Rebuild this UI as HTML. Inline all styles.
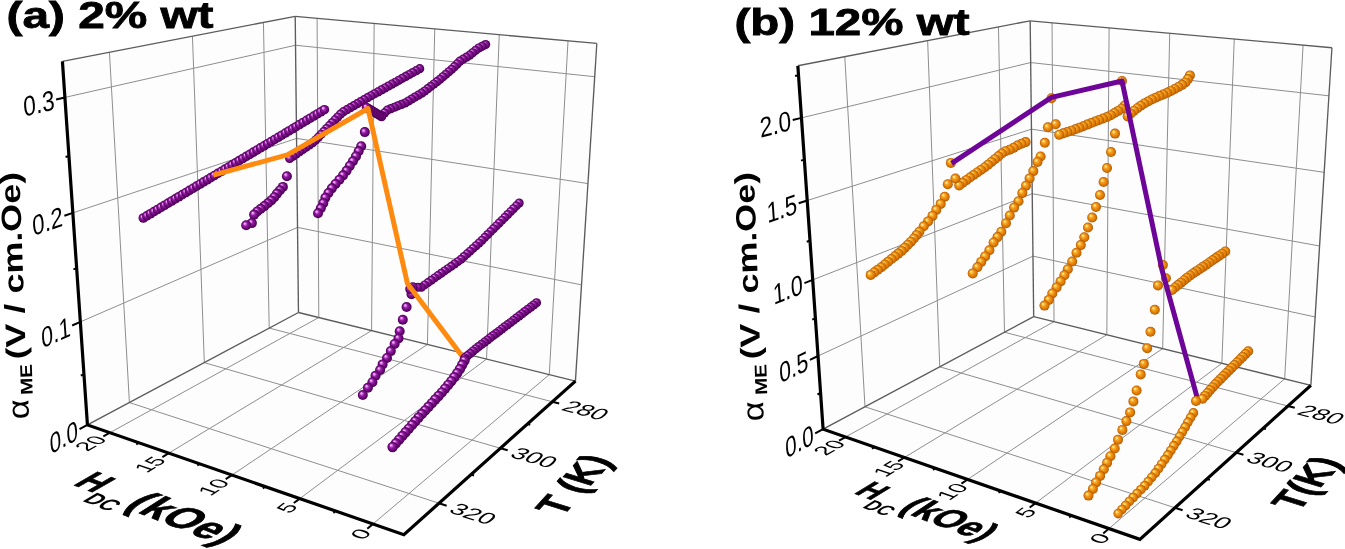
<!DOCTYPE html><html><head><meta charset="utf-8"><style>html,body{margin:0;padding:0;background:#fff;width:1345px;height:549px;overflow:hidden}svg{display:block;will-change:transform}text{font-family:"Liberation Sans",sans-serif}</style></head><body>
<svg width="1345" height="549" viewBox="0 0 1345 549">
<defs>
<radialGradient id="gp" cx="50%" cy="50%" r="50%" fx="33%" fy="30%"><stop offset="0" stop-color="#ffe0ff"/><stop offset="0.18" stop-color="#e485ef"/><stop offset="0.42" stop-color="#9420a4"/><stop offset="0.75" stop-color="#6c0678"/><stop offset="1" stop-color="#44004e"/></radialGradient>
<radialGradient id="go" cx="50%" cy="50%" r="50%" fx="33%" fy="30%"><stop offset="0" stop-color="#fffce0"/><stop offset="0.13" stop-color="#ffe67a"/><stop offset="0.32" stop-color="#f8aa2c"/><stop offset="0.62" stop-color="#e8860c"/><stop offset="0.85" stop-color="#d06e00"/><stop offset="1" stop-color="#a85200"/></radialGradient>
</defs>
<polygon points="87.43,424.95 298.46,312.48 295.21,16.34 62.42,61.33" fill="#fdfdfd"/>
<polygon points="298.46,312.48 575.44,381.09 596.82,43.43 295.21,16.34" fill="#fdfdfd"/>
<polygon points="87.43,424.95 298.46,312.48 575.44,381.09 403.88,534.69" fill="#fdfdfd"/>
<line x1="269.18" y1="328.08" x2="263.44" y2="22.48" stroke="#8e8e8e" stroke-width="1"/>
<line x1="269.18" y1="328.08" x2="552.37" y2="401.75" stroke="#8e8e8e" stroke-width="1"/>
<line x1="204.32" y1="362.65" x2="192.45" y2="36.2" stroke="#8e8e8e" stroke-width="1"/>
<line x1="204.32" y1="362.65" x2="500.44" y2="448.24" stroke="#8e8e8e" stroke-width="1"/>
<line x1="129.41" y1="402.58" x2="109.44" y2="52.25" stroke="#8e8e8e" stroke-width="1"/>
<line x1="129.41" y1="402.58" x2="439.01" y2="503.24" stroke="#8e8e8e" stroke-width="1"/>
<line x1="549.27" y1="374.61" x2="568.02" y2="40.85" stroke="#8e8e8e" stroke-width="1"/>
<line x1="549.27" y1="374.61" x2="372.98" y2="523.98" stroke="#8e8e8e" stroke-width="1"/>
<line x1="486.55" y1="359.07" x2="499.25" y2="34.67" stroke="#8e8e8e" stroke-width="1"/>
<line x1="486.55" y1="359.07" x2="299.8" y2="498.6" stroke="#8e8e8e" stroke-width="1"/>
<line x1="427.42" y1="344.42" x2="434.76" y2="28.88" stroke="#8e8e8e" stroke-width="1"/>
<line x1="427.42" y1="344.42" x2="231.91" y2="475.05" stroke="#8e8e8e" stroke-width="1"/>
<line x1="371.59" y1="330.59" x2="374.16" y2="23.43" stroke="#8e8e8e" stroke-width="1"/>
<line x1="371.59" y1="330.59" x2="168.77" y2="453.15" stroke="#8e8e8e" stroke-width="1"/>
<line x1="318.79" y1="317.51" x2="317.1" y2="18.31" stroke="#8e8e8e" stroke-width="1"/>
<line x1="318.79" y1="317.51" x2="109.89" y2="432.73" stroke="#8e8e8e" stroke-width="1"/>
<line x1="80.35" y1="321.9" x2="297.53" y2="227.4" stroke="#8e8e8e" stroke-width="1"/>
<line x1="297.53" y1="227.4" x2="581.53" y2="284.89" stroke="#8e8e8e" stroke-width="1"/>
<line x1="72.85" y1="212.89" x2="296.55" y2="138.4" stroke="#8e8e8e" stroke-width="1"/>
<line x1="296.55" y1="138.4" x2="587.95" y2="183.57" stroke="#8e8e8e" stroke-width="1"/>
<line x1="64.91" y1="97.41" x2="295.52" y2="45.22" stroke="#8e8e8e" stroke-width="1"/>
<line x1="295.52" y1="45.22" x2="594.71" y2="76.71" stroke="#8e8e8e" stroke-width="1"/>
<line x1="62.42" y1="61.33" x2="295.21" y2="16.34" stroke="#5c5c5c" stroke-width="1.35"/>
<line x1="295.21" y1="16.34" x2="596.82" y2="43.43" stroke="#5c5c5c" stroke-width="1.35"/>
<line x1="295.21" y1="16.34" x2="298.46" y2="312.48" stroke="#5c5c5c" stroke-width="1.35"/>
<line x1="596.82" y1="43.43" x2="575.44" y2="381.09" stroke="#5c5c5c" stroke-width="1.35"/>
<line x1="87.43" y1="424.95" x2="298.46" y2="312.48" stroke="#5c5c5c" stroke-width="1.35"/>
<line x1="298.46" y1="312.48" x2="575.44" y2="381.09" stroke="#5c5c5c" stroke-width="1.35"/>
<line x1="87.43" y1="424.95" x2="79.52" y2="429.17" stroke="#000" stroke-width="2"/>
<line x1="80.35" y1="321.9" x2="72.15" y2="325.46" stroke="#000" stroke-width="2"/>
<line x1="72.85" y1="212.89" x2="64.36" y2="215.72" stroke="#000" stroke-width="2"/>
<line x1="64.91" y1="97.41" x2="56.1" y2="99.41" stroke="#000" stroke-width="2"/>
<line x1="83.94" y1="374.13" x2="80.82" y2="375.65" stroke="#000" stroke-width="2"/>
<line x1="76.65" y1="268.17" x2="73.42" y2="269.41" stroke="#000" stroke-width="2"/>
<line x1="68.94" y1="156" x2="65.59" y2="156.94" stroke="#000" stroke-width="2"/>
<line x1="372.98" y1="523.98" x2="367.29" y2="528.8" stroke="#000" stroke-width="2"/>
<line x1="299.8" y1="498.6" x2="293.81" y2="503.07" stroke="#000" stroke-width="2"/>
<line x1="231.91" y1="475.05" x2="225.7" y2="479.2" stroke="#000" stroke-width="2"/>
<line x1="168.77" y1="453.15" x2="162.37" y2="457.02" stroke="#000" stroke-width="2"/>
<line x1="109.89" y1="432.73" x2="103.35" y2="436.34" stroke="#000" stroke-width="2"/>
<line x1="335.69" y1="511.04" x2="333.36" y2="512.89" stroke="#000" stroke-width="2"/>
<line x1="265.23" y1="486.61" x2="262.8" y2="488.32" stroke="#000" stroke-width="2"/>
<line x1="199.78" y1="463.91" x2="197.26" y2="465.5" stroke="#000" stroke-width="2"/>
<line x1="138.82" y1="442.77" x2="136.24" y2="444.26" stroke="#000" stroke-width="2"/>
<line x1="552.37" y1="401.75" x2="559.2" y2="403.52" stroke="#000" stroke-width="2"/>
<line x1="500.44" y1="448.24" x2="507.66" y2="450.33" stroke="#000" stroke-width="2"/>
<line x1="439.01" y1="503.24" x2="446.66" y2="505.73" stroke="#000" stroke-width="2"/>
<line x1="527.45" y1="424.06" x2="530.25" y2="424.83" stroke="#000" stroke-width="2"/>
<line x1="471.07" y1="474.54" x2="474.04" y2="475.45" stroke="#000" stroke-width="2"/>
<polyline points="62.42,61.33 87.43,424.95 403.88,534.69 575.44,381.09" fill="none" stroke="#000" stroke-width="3.2" stroke-linejoin="miter"/>
<polygon points="823.09,429.21 1033.69,316.63 1030.17,20.81 797.85,65.78" fill="#fdfdfd"/>
<polygon points="1033.69,316.63 1310.89,385.33 1331.92,47.71 1030.17,20.81" fill="#fdfdfd"/>
<polygon points="823.09,429.21 1033.69,316.63 1310.89,385.33 1139.91,539.34" fill="#fdfdfd"/>
<line x1="1004.48" y1="332.24" x2="998.48" y2="26.95" stroke="#8e8e8e" stroke-width="1"/>
<line x1="1004.48" y1="332.24" x2="1287.92" y2="406.02" stroke="#8e8e8e" stroke-width="1"/>
<line x1="939.77" y1="366.84" x2="927.65" y2="40.65" stroke="#8e8e8e" stroke-width="1"/>
<line x1="939.77" y1="366.84" x2="1236.18" y2="452.62" stroke="#8e8e8e" stroke-width="1"/>
<line x1="865" y1="406.8" x2="844.79" y2="56.69" stroke="#8e8e8e" stroke-width="1"/>
<line x1="865" y1="406.8" x2="1174.95" y2="507.78" stroke="#8e8e8e" stroke-width="1"/>
<line x1="1284.67" y1="378.83" x2="1303.08" y2="45.14" stroke="#8e8e8e" stroke-width="1"/>
<line x1="1284.67" y1="378.83" x2="1108.94" y2="528.58" stroke="#8e8e8e" stroke-width="1"/>
<line x1="1221.87" y1="363.27" x2="1234.25" y2="39" stroke="#8e8e8e" stroke-width="1"/>
<line x1="1221.87" y1="363.27" x2="1035.61" y2="503.09" stroke="#8e8e8e" stroke-width="1"/>
<line x1="1162.69" y1="348.6" x2="1169.72" y2="33.25" stroke="#8e8e8e" stroke-width="1"/>
<line x1="1162.69" y1="348.6" x2="967.63" y2="479.46" stroke="#8e8e8e" stroke-width="1"/>
<line x1="1106.83" y1="334.75" x2="1109.11" y2="27.85" stroke="#8e8e8e" stroke-width="1"/>
<line x1="1106.83" y1="334.75" x2="904.44" y2="457.49" stroke="#8e8e8e" stroke-width="1"/>
<line x1="1054.02" y1="321.66" x2="1052.06" y2="22.76" stroke="#8e8e8e" stroke-width="1"/>
<line x1="1054.02" y1="321.66" x2="845.54" y2="437.01" stroke="#8e8e8e" stroke-width="1"/>
<line x1="818.01" y1="356.02" x2="1032.97" y2="256.14" stroke="#8e8e8e" stroke-width="1"/>
<line x1="1032.97" y1="256.14" x2="1315.15" y2="316.94" stroke="#8e8e8e" stroke-width="1"/>
<line x1="812.72" y1="279.87" x2="1032.23" y2="193.7" stroke="#8e8e8e" stroke-width="1"/>
<line x1="1032.23" y1="193.7" x2="1319.57" y2="245.99" stroke="#8e8e8e" stroke-width="1"/>
<line x1="807.21" y1="200.56" x2="1031.46" y2="129.2" stroke="#8e8e8e" stroke-width="1"/>
<line x1="1031.46" y1="129.2" x2="1324.16" y2="172.33" stroke="#8e8e8e" stroke-width="1"/>
<line x1="801.47" y1="117.89" x2="1030.67" y2="62.54" stroke="#8e8e8e" stroke-width="1"/>
<line x1="1030.67" y1="62.54" x2="1328.92" y2="95.82" stroke="#8e8e8e" stroke-width="1"/>
<line x1="797.85" y1="65.78" x2="1030.17" y2="20.81" stroke="#5c5c5c" stroke-width="1.35"/>
<line x1="1030.17" y1="20.81" x2="1331.92" y2="47.71" stroke="#5c5c5c" stroke-width="1.35"/>
<line x1="1030.17" y1="20.81" x2="1033.69" y2="316.63" stroke="#5c5c5c" stroke-width="1.35"/>
<line x1="1331.92" y1="47.71" x2="1310.89" y2="385.33" stroke="#5c5c5c" stroke-width="1.35"/>
<line x1="823.09" y1="429.21" x2="1033.69" y2="316.63" stroke="#5c5c5c" stroke-width="1.35"/>
<line x1="1033.69" y1="316.63" x2="1310.89" y2="385.33" stroke="#5c5c5c" stroke-width="1.35"/>
<line x1="823.09" y1="429.21" x2="815.18" y2="433.44" stroke="#000" stroke-width="2"/>
<line x1="818.01" y1="356.02" x2="809.9" y2="359.79" stroke="#000" stroke-width="2"/>
<line x1="812.72" y1="279.87" x2="804.41" y2="283.13" stroke="#000" stroke-width="2"/>
<line x1="807.21" y1="200.56" x2="798.68" y2="203.27" stroke="#000" stroke-width="2"/>
<line x1="801.47" y1="117.89" x2="792.72" y2="120.01" stroke="#000" stroke-width="2"/>
<line x1="820.57" y1="392.98" x2="817.47" y2="394.52" stroke="#000" stroke-width="2"/>
<line x1="815.39" y1="318.33" x2="812.21" y2="319.69" stroke="#000" stroke-width="2"/>
<line x1="809.99" y1="240.62" x2="806.73" y2="241.78" stroke="#000" stroke-width="2"/>
<line x1="804.37" y1="159.66" x2="801.03" y2="160.59" stroke="#000" stroke-width="2"/>
<line x1="798.51" y1="75.24" x2="795.07" y2="75.93" stroke="#000" stroke-width="2"/>
<line x1="1108.94" y1="528.58" x2="1103.26" y2="533.42" stroke="#000" stroke-width="2"/>
<line x1="1035.61" y1="503.09" x2="1029.64" y2="507.57" stroke="#000" stroke-width="2"/>
<line x1="967.63" y1="479.46" x2="961.43" y2="483.62" stroke="#000" stroke-width="2"/>
<line x1="904.44" y1="457.49" x2="898.05" y2="461.36" stroke="#000" stroke-width="2"/>
<line x1="845.54" y1="437.01" x2="839.01" y2="440.63" stroke="#000" stroke-width="2"/>
<line x1="1071.57" y1="515.59" x2="1069.24" y2="517.44" stroke="#000" stroke-width="2"/>
<line x1="1000.99" y1="491.05" x2="998.56" y2="492.77" stroke="#000" stroke-width="2"/>
<line x1="935.47" y1="468.28" x2="932.96" y2="469.87" stroke="#000" stroke-width="2"/>
<line x1="874.48" y1="447.07" x2="871.91" y2="448.56" stroke="#000" stroke-width="2"/>
<line x1="1287.92" y1="406.02" x2="1294.76" y2="407.8" stroke="#000" stroke-width="2"/>
<line x1="1236.18" y1="452.62" x2="1243.42" y2="454.72" stroke="#000" stroke-width="2"/>
<line x1="1174.95" y1="507.78" x2="1182.62" y2="510.28" stroke="#000" stroke-width="2"/>
<line x1="1263.09" y1="428.38" x2="1265.9" y2="429.15" stroke="#000" stroke-width="2"/>
<line x1="1206.91" y1="478.99" x2="1209.88" y2="479.9" stroke="#000" stroke-width="2"/>
<polyline points="797.85,65.78 823.09,429.21 1139.91,539.34 1310.89,385.33" fill="none" stroke="#000" stroke-width="3.2" stroke-linejoin="miter"/>
<circle cx="143.3" cy="218" r="4.8" fill="url(#gp)"/><circle cx="146.85" cy="215.88" r="4.8" fill="url(#gp)"/><circle cx="150.4" cy="213.75" r="4.8" fill="url(#gp)"/><circle cx="153.95" cy="211.63" r="4.8" fill="url(#gp)"/><circle cx="157.5" cy="209.51" r="4.8" fill="url(#gp)"/><circle cx="161.05" cy="207.38" r="4.8" fill="url(#gp)"/><circle cx="164.61" cy="205.26" r="4.8" fill="url(#gp)"/><circle cx="168.16" cy="203.14" r="4.8" fill="url(#gp)"/><circle cx="171.71" cy="201.01" r="4.8" fill="url(#gp)"/><circle cx="175.26" cy="198.89" r="4.8" fill="url(#gp)"/><circle cx="178.81" cy="196.76" r="4.8" fill="url(#gp)"/><circle cx="182.36" cy="194.64" r="4.8" fill="url(#gp)"/><circle cx="185.91" cy="192.52" r="4.8" fill="url(#gp)"/><circle cx="189.46" cy="190.39" r="4.8" fill="url(#gp)"/><circle cx="193.01" cy="188.27" r="4.8" fill="url(#gp)"/><circle cx="196.56" cy="186.15" r="4.8" fill="url(#gp)"/><circle cx="200.12" cy="184.02" r="4.8" fill="url(#gp)"/><circle cx="203.67" cy="181.9" r="4.8" fill="url(#gp)"/><circle cx="207.22" cy="179.78" r="4.8" fill="url(#gp)"/><circle cx="210.77" cy="177.65" r="4.8" fill="url(#gp)"/><circle cx="214.32" cy="175.53" r="4.8" fill="url(#gp)"/><circle cx="217.87" cy="173.41" r="4.8" fill="url(#gp)"/><circle cx="221.42" cy="171.28" r="4.8" fill="url(#gp)"/><circle cx="224.97" cy="169.16" r="4.8" fill="url(#gp)"/><circle cx="228.52" cy="167.04" r="4.8" fill="url(#gp)"/><circle cx="232.07" cy="164.91" r="4.8" fill="url(#gp)"/><circle cx="235.63" cy="162.79" r="4.8" fill="url(#gp)"/><circle cx="239.18" cy="160.66" r="4.8" fill="url(#gp)"/><circle cx="242.73" cy="158.54" r="4.8" fill="url(#gp)"/><circle cx="246.28" cy="156.42" r="4.8" fill="url(#gp)"/><circle cx="249.83" cy="154.29" r="4.8" fill="url(#gp)"/><circle cx="253.38" cy="152.17" r="4.8" fill="url(#gp)"/><circle cx="256.93" cy="150.05" r="4.8" fill="url(#gp)"/><circle cx="260.48" cy="147.92" r="4.8" fill="url(#gp)"/><circle cx="264.03" cy="145.8" r="4.8" fill="url(#gp)"/><circle cx="267.58" cy="143.68" r="4.8" fill="url(#gp)"/><circle cx="271.14" cy="141.55" r="4.8" fill="url(#gp)"/><circle cx="274.69" cy="139.43" r="4.8" fill="url(#gp)"/><circle cx="278.24" cy="137.31" r="4.8" fill="url(#gp)"/><circle cx="281.79" cy="135.18" r="4.8" fill="url(#gp)"/><circle cx="285.34" cy="133.06" r="4.8" fill="url(#gp)"/><circle cx="288.89" cy="130.94" r="4.8" fill="url(#gp)"/><circle cx="292.44" cy="128.81" r="4.8" fill="url(#gp)"/><circle cx="295.99" cy="126.69" r="4.8" fill="url(#gp)"/><circle cx="299.54" cy="124.56" r="4.8" fill="url(#gp)"/><circle cx="303.09" cy="122.44" r="4.8" fill="url(#gp)"/><circle cx="306.65" cy="120.32" r="4.8" fill="url(#gp)"/><circle cx="310.2" cy="118.19" r="4.8" fill="url(#gp)"/><circle cx="313.75" cy="116.07" r="4.8" fill="url(#gp)"/><circle cx="317.3" cy="113.95" r="4.8" fill="url(#gp)"/><circle cx="320.85" cy="111.82" r="4.8" fill="url(#gp)"/><circle cx="324.4" cy="109.7" r="4.8" fill="url(#gp)"/>
<circle cx="286.9" cy="176.2" r="5.0" fill="url(#gp)"/>
<circle cx="282.9" cy="186.9" r="5.0" fill="url(#gp)"/><circle cx="279.92" cy="190.23" r="5.0" fill="url(#gp)"/><circle cx="277.02" cy="193.62" r="5.0" fill="url(#gp)"/><circle cx="274.31" cy="197.17" r="5.0" fill="url(#gp)"/><circle cx="271.22" cy="200.38" r="5.0" fill="url(#gp)"/><circle cx="267.84" cy="203.3" r="5.0" fill="url(#gp)"/><circle cx="264.37" cy="206.11" r="5.0" fill="url(#gp)"/><circle cx="260.81" cy="208.8" r="5.0" fill="url(#gp)"/><circle cx="257.26" cy="211.44" r="5.0" fill="url(#gp)"/><circle cx="254.1" cy="214.6" r="5.0" fill="url(#gp)"/>
<circle cx="251.9" cy="223.1" r="5.0" fill="url(#gp)"/><circle cx="246.2" cy="225.3" r="5.0" fill="url(#gp)"/>
<circle cx="419.7" cy="68.7" r="4.6" fill="url(#gp)"/><circle cx="416.22" cy="70.63" r="4.6" fill="url(#gp)"/><circle cx="412.75" cy="72.57" r="4.6" fill="url(#gp)"/><circle cx="409.27" cy="74.5" r="4.6" fill="url(#gp)"/><circle cx="405.79" cy="76.43" r="4.6" fill="url(#gp)"/><circle cx="402.31" cy="78.36" r="4.6" fill="url(#gp)"/><circle cx="398.84" cy="80.3" r="4.6" fill="url(#gp)"/><circle cx="395.36" cy="82.23" r="4.6" fill="url(#gp)"/><circle cx="391.88" cy="84.16" r="4.6" fill="url(#gp)"/><circle cx="388.41" cy="86.1" r="4.6" fill="url(#gp)"/><circle cx="384.93" cy="88.03" r="4.6" fill="url(#gp)"/><circle cx="381.45" cy="89.96" r="4.6" fill="url(#gp)"/><circle cx="377.97" cy="91.89" r="4.6" fill="url(#gp)"/><circle cx="374.49" cy="93.82" r="4.6" fill="url(#gp)"/><circle cx="371.01" cy="95.75" r="4.6" fill="url(#gp)"/><circle cx="367.55" cy="97.7" r="4.6" fill="url(#gp)"/><circle cx="364.11" cy="99.7" r="4.6" fill="url(#gp)"/><circle cx="360.67" cy="101.7" r="4.6" fill="url(#gp)"/><circle cx="357.23" cy="103.7" r="4.6" fill="url(#gp)"/><circle cx="353.79" cy="105.7" r="4.6" fill="url(#gp)"/><circle cx="350.35" cy="107.7" r="4.6" fill="url(#gp)"/><circle cx="346.91" cy="109.7" r="4.6" fill="url(#gp)"/><circle cx="343.48" cy="111.7" r="4.6" fill="url(#gp)"/><circle cx="340.44" cy="114.22" r="4.6" fill="url(#gp)"/><circle cx="337.69" cy="117.09" r="4.6" fill="url(#gp)"/><circle cx="334.93" cy="119.95" r="4.6" fill="url(#gp)"/><circle cx="332.17" cy="122.82" r="4.6" fill="url(#gp)"/><circle cx="329.41" cy="125.68" r="4.6" fill="url(#gp)"/><circle cx="326.65" cy="128.55" r="4.6" fill="url(#gp)"/><circle cx="323.89" cy="131.42" r="4.6" fill="url(#gp)"/><circle cx="321.13" cy="134.28" r="4.6" fill="url(#gp)"/><circle cx="318.37" cy="137.15" r="4.6" fill="url(#gp)"/><circle cx="315.61" cy="140.01" r="4.6" fill="url(#gp)"/><circle cx="312.69" cy="142.69" r="4.6" fill="url(#gp)"/><circle cx="309.41" cy="144.93" r="4.6" fill="url(#gp)"/><circle cx="306.12" cy="147.18" r="4.6" fill="url(#gp)"/><circle cx="302.84" cy="149.42" r="4.6" fill="url(#gp)"/><circle cx="299.55" cy="151.67" r="4.6" fill="url(#gp)"/><circle cx="296.27" cy="153.91" r="4.6" fill="url(#gp)"/><circle cx="292.98" cy="156.16" r="4.6" fill="url(#gp)"/><circle cx="289.7" cy="158.4" r="4.6" fill="url(#gp)"/>
<circle cx="364.8" cy="132.1" r="5.0" fill="url(#gp)"/>
<circle cx="361.2" cy="146.2" r="5.0" fill="url(#gp)"/><circle cx="358.64" cy="151.33" r="5.0" fill="url(#gp)"/><circle cx="355.94" cy="156.39" r="5.0" fill="url(#gp)"/><circle cx="352.92" cy="161.26" r="5.0" fill="url(#gp)"/><circle cx="349.76" cy="166.05" r="5.0" fill="url(#gp)"/><circle cx="346.57" cy="170.81" r="5.0" fill="url(#gp)"/><circle cx="343.09" cy="175.36" r="5.0" fill="url(#gp)"/><circle cx="339.36" cy="179.72" r="5.0" fill="url(#gp)"/><circle cx="335.53" cy="183.98" r="5.0" fill="url(#gp)"/><circle cx="331.85" cy="188.37" r="5.0" fill="url(#gp)"/><circle cx="328.46" cy="193" r="5.0" fill="url(#gp)"/><circle cx="325.39" cy="197.8" r="5.0" fill="url(#gp)"/><circle cx="323.29" cy="203.14" r="5.0" fill="url(#gp)"/><circle cx="320.79" cy="208.29" r="5.0" fill="url(#gp)"/><circle cx="318" cy="213.3" r="5.0" fill="url(#gp)"/>
<circle cx="485.6" cy="44.6" r="4.6" fill="url(#gp)"/><circle cx="482.15" cy="46.3" r="4.6" fill="url(#gp)"/><circle cx="478.71" cy="48" r="4.6" fill="url(#gp)"/><circle cx="475.65" cy="50.32" r="4.6" fill="url(#gp)"/><circle cx="472.66" cy="52.73" r="4.6" fill="url(#gp)"/><circle cx="469.66" cy="55.13" r="4.6" fill="url(#gp)"/><circle cx="466.41" cy="57.18" r="4.6" fill="url(#gp)"/><circle cx="463.12" cy="59.17" r="4.6" fill="url(#gp)"/><circle cx="459.88" cy="61.22" r="4.6" fill="url(#gp)"/><circle cx="457.15" cy="63.92" r="4.6" fill="url(#gp)"/><circle cx="454.41" cy="66.63" r="4.6" fill="url(#gp)"/><circle cx="451.68" cy="69.33" r="4.6" fill="url(#gp)"/><circle cx="448.79" cy="71.86" r="4.6" fill="url(#gp)"/><circle cx="445.86" cy="74.34" r="4.6" fill="url(#gp)"/><circle cx="442.92" cy="76.82" r="4.6" fill="url(#gp)"/><circle cx="439.98" cy="79.3" r="4.6" fill="url(#gp)"/><circle cx="436.94" cy="81.65" r="4.6" fill="url(#gp)"/><circle cx="433.9" cy="84" r="4.6" fill="url(#gp)"/><circle cx="430.86" cy="86.36" r="4.6" fill="url(#gp)"/><circle cx="427.82" cy="88.71" r="4.6" fill="url(#gp)"/><circle cx="424.78" cy="91.06" r="4.6" fill="url(#gp)"/><circle cx="421.58" cy="93.17" r="4.6" fill="url(#gp)"/><circle cx="418.28" cy="95.15" r="4.6" fill="url(#gp)"/><circle cx="414.98" cy="97.12" r="4.6" fill="url(#gp)"/><circle cx="411.68" cy="99.1" r="4.6" fill="url(#gp)"/><circle cx="408.38" cy="101.07" r="4.6" fill="url(#gp)"/><circle cx="405.05" cy="102.98" r="4.6" fill="url(#gp)"/><circle cx="401.49" cy="104.41" r="4.6" fill="url(#gp)"/><circle cx="397.92" cy="105.84" r="4.6" fill="url(#gp)"/><circle cx="394.35" cy="107.27" r="4.6" fill="url(#gp)"/><circle cx="390.78" cy="108.7" r="4.6" fill="url(#gp)"/><circle cx="387.24" cy="110.16" r="4.6" fill="url(#gp)"/><circle cx="384.52" cy="112.88" r="4.6" fill="url(#gp)"/><circle cx="381.8" cy="115.6" r="4.6" fill="url(#gp)"/>
<circle cx="381.5" cy="116.5" r="4.8" fill="url(#gp)"/><circle cx="379.36" cy="115.21" r="4.8" fill="url(#gp)"/><circle cx="377.21" cy="113.93" r="4.8" fill="url(#gp)"/><circle cx="375.07" cy="112.64" r="4.8" fill="url(#gp)"/><circle cx="372.93" cy="111.36" r="4.8" fill="url(#gp)"/><circle cx="370.79" cy="110.07" r="4.8" fill="url(#gp)"/><circle cx="368.64" cy="108.79" r="4.8" fill="url(#gp)"/><circle cx="366.5" cy="107.5" r="4.8" fill="url(#gp)"/>
<circle cx="519.2" cy="203" r="4.5" fill="url(#gp)"/><circle cx="516.34" cy="205.86" r="4.5" fill="url(#gp)"/><circle cx="513.48" cy="208.72" r="4.5" fill="url(#gp)"/><circle cx="510.62" cy="211.58" r="4.5" fill="url(#gp)"/><circle cx="507.75" cy="214.45" r="4.5" fill="url(#gp)"/><circle cx="504.89" cy="217.31" r="4.5" fill="url(#gp)"/><circle cx="502.03" cy="220.17" r="4.5" fill="url(#gp)"/><circle cx="499.17" cy="223.03" r="4.5" fill="url(#gp)"/><circle cx="496.31" cy="225.89" r="4.5" fill="url(#gp)"/><circle cx="493.45" cy="228.75" r="4.5" fill="url(#gp)"/><circle cx="490.58" cy="231.62" r="4.5" fill="url(#gp)"/><circle cx="487.72" cy="234.48" r="4.5" fill="url(#gp)"/><circle cx="484.86" cy="237.34" r="4.5" fill="url(#gp)"/><circle cx="482" cy="240.2" r="4.5" fill="url(#gp)"/><circle cx="479.09" cy="243.01" r="4.5" fill="url(#gp)"/><circle cx="476.08" cy="245.72" r="4.5" fill="url(#gp)"/><circle cx="473.07" cy="248.42" r="4.5" fill="url(#gp)"/><circle cx="470.07" cy="251.13" r="4.5" fill="url(#gp)"/><circle cx="467.06" cy="253.84" r="4.5" fill="url(#gp)"/><circle cx="464.05" cy="256.55" r="4.5" fill="url(#gp)"/><circle cx="461.04" cy="259.25" r="4.5" fill="url(#gp)"/><circle cx="457.82" cy="261.69" r="4.5" fill="url(#gp)"/><circle cx="454.5" cy="264" r="4.5" fill="url(#gp)"/><circle cx="451.18" cy="266.32" r="4.5" fill="url(#gp)"/><circle cx="447.86" cy="268.63" r="4.5" fill="url(#gp)"/><circle cx="444.54" cy="270.94" r="4.5" fill="url(#gp)"/><circle cx="441.21" cy="273.25" r="4.5" fill="url(#gp)"/><circle cx="437.9" cy="275.58" r="4.5" fill="url(#gp)"/><circle cx="434.59" cy="277.91" r="4.5" fill="url(#gp)"/><circle cx="431.29" cy="280.24" r="4.5" fill="url(#gp)"/><circle cx="427.98" cy="282.57" r="4.5" fill="url(#gp)"/><circle cx="424.67" cy="284.91" r="4.5" fill="url(#gp)"/><circle cx="421.36" cy="287.24" r="4.5" fill="url(#gp)"/><circle cx="417.8" cy="287.3" r="4.5" fill="url(#gp)"/>
<circle cx="412.8" cy="287.2" r="5.0" fill="url(#gp)"/><circle cx="411.5" cy="294.2" r="5.0" fill="url(#gp)"/><circle cx="410.2" cy="289.1" r="5.0" fill="url(#gp)"/><circle cx="406.6" cy="307" r="5.0" fill="url(#gp)"/><circle cx="402.8" cy="319.7" r="5.0" fill="url(#gp)"/><circle cx="399.7" cy="331.2" r="5.0" fill="url(#gp)"/><circle cx="398.5" cy="338.4" r="5.0" fill="url(#gp)"/><circle cx="394.6" cy="344" r="5.0" fill="url(#gp)"/><circle cx="390.8" cy="351.1" r="5.0" fill="url(#gp)"/><circle cx="387" cy="358" r="5.0" fill="url(#gp)"/><circle cx="382.6" cy="364.4" r="5.0" fill="url(#gp)"/><circle cx="380.1" cy="370" r="5.0" fill="url(#gp)"/><circle cx="375.5" cy="375.8" r="5.0" fill="url(#gp)"/><circle cx="372.4" cy="382.2" r="5.0" fill="url(#gp)"/><circle cx="367.9" cy="387.8" r="5.0" fill="url(#gp)"/><circle cx="362.8" cy="395" r="5.0" fill="url(#gp)"/>
<polyline points="213.3,175.2 287.3,154.8 368,108.5 407.4,283.5 463.7,358.2" fill="none" stroke="#ff8a10" stroke-width="5" stroke-linejoin="round"/>
<circle cx="536.5" cy="302.8" r="4.6" fill="url(#gp)"/><circle cx="533.61" cy="304.99" r="4.6" fill="url(#gp)"/><circle cx="530.72" cy="307.17" r="4.6" fill="url(#gp)"/><circle cx="527.83" cy="309.36" r="4.6" fill="url(#gp)"/><circle cx="524.95" cy="311.55" r="4.6" fill="url(#gp)"/><circle cx="522.06" cy="313.73" r="4.6" fill="url(#gp)"/><circle cx="519.17" cy="315.92" r="4.6" fill="url(#gp)"/><circle cx="516.28" cy="318.11" r="4.6" fill="url(#gp)"/><circle cx="513.39" cy="320.3" r="4.6" fill="url(#gp)"/><circle cx="510.5" cy="322.48" r="4.6" fill="url(#gp)"/><circle cx="507.61" cy="324.67" r="4.6" fill="url(#gp)"/><circle cx="504.72" cy="326.86" r="4.6" fill="url(#gp)"/><circle cx="501.84" cy="329.04" r="4.6" fill="url(#gp)"/><circle cx="498.95" cy="331.23" r="4.6" fill="url(#gp)"/><circle cx="496.06" cy="333.42" r="4.6" fill="url(#gp)"/><circle cx="493.17" cy="335.6" r="4.6" fill="url(#gp)"/><circle cx="490.28" cy="337.79" r="4.6" fill="url(#gp)"/><circle cx="487.39" cy="339.98" r="4.6" fill="url(#gp)"/><circle cx="484.5" cy="342.16" r="4.6" fill="url(#gp)"/><circle cx="481.61" cy="344.35" r="4.6" fill="url(#gp)"/><circle cx="478.73" cy="346.54" r="4.6" fill="url(#gp)"/><circle cx="475.86" cy="348.75" r="4.6" fill="url(#gp)"/><circle cx="473.07" cy="351.06" r="4.6" fill="url(#gp)"/><circle cx="470.28" cy="353.38" r="4.6" fill="url(#gp)"/><circle cx="467.49" cy="355.69" r="4.6" fill="url(#gp)"/><circle cx="464.7" cy="358" r="4.6" fill="url(#gp)"/>
<circle cx="464.5" cy="360.5" r="5.2" fill="url(#gp)"/><circle cx="462.17" cy="364.82" r="5.2" fill="url(#gp)"/><circle cx="459.84" cy="369.13" r="5.2" fill="url(#gp)"/><circle cx="457.13" cy="373.2" r="5.2" fill="url(#gp)"/><circle cx="454.23" cy="377.16" r="5.2" fill="url(#gp)"/><circle cx="451.3" cy="381.09" r="5.2" fill="url(#gp)"/><circle cx="448.16" cy="384.86" r="5.2" fill="url(#gp)"/><circle cx="445.02" cy="388.62" r="5.2" fill="url(#gp)"/><circle cx="441.83" cy="392.35" r="5.2" fill="url(#gp)"/><circle cx="438.5" cy="395.95" r="5.2" fill="url(#gp)"/><circle cx="435.17" cy="399.55" r="5.2" fill="url(#gp)"/><circle cx="431.84" cy="403.15" r="5.2" fill="url(#gp)"/><circle cx="428.51" cy="406.75" r="5.2" fill="url(#gp)"/><circle cx="425.17" cy="410.34" r="5.2" fill="url(#gp)"/><circle cx="421.84" cy="413.94" r="5.2" fill="url(#gp)"/><circle cx="418.52" cy="417.55" r="5.2" fill="url(#gp)"/><circle cx="415.27" cy="421.22" r="5.2" fill="url(#gp)"/><circle cx="412.03" cy="424.9" r="5.2" fill="url(#gp)"/><circle cx="408.78" cy="428.58" r="5.2" fill="url(#gp)"/><circle cx="405.54" cy="432.25" r="5.2" fill="url(#gp)"/><circle cx="402.3" cy="435.94" r="5.2" fill="url(#gp)"/><circle cx="399.07" cy="439.63" r="5.2" fill="url(#gp)"/><circle cx="395.83" cy="443.31" r="5.2" fill="url(#gp)"/><circle cx="392.6" cy="447" r="5.2" fill="url(#gp)"/>
<circle cx="1025.6" cy="142.1" r="5.0" fill="url(#go)"/><circle cx="1021.5" cy="143.8" r="5.0" fill="url(#go)"/><circle cx="1017.44" cy="145.57" r="5.0" fill="url(#go)"/><circle cx="1013.62" cy="147.84" r="5.0" fill="url(#go)"/><circle cx="1009.63" cy="149.74" r="5.0" fill="url(#go)"/><circle cx="1005.43" cy="151.18" r="5.0" fill="url(#go)"/><circle cx="1001.73" cy="153.5" r="5.0" fill="url(#go)"/><circle cx="998.32" cy="156.34" r="5.0" fill="url(#go)"/><circle cx="994.9" cy="159.16" r="5.0" fill="url(#go)"/><circle cx="991.45" cy="161.96" r="5.0" fill="url(#go)"/><circle cx="988.01" cy="164.76" r="5.0" fill="url(#go)"/><circle cx="984.48" cy="167.44" r="5.0" fill="url(#go)"/><circle cx="980.82" cy="169.96" r="5.0" fill="url(#go)"/><circle cx="977.16" cy="172.47" r="5.0" fill="url(#go)"/><circle cx="973.52" cy="175.01" r="5.0" fill="url(#go)"/><circle cx="969.9" cy="177.58" r="5.0" fill="url(#go)"/><circle cx="966.29" cy="180.16" r="5.0" fill="url(#go)"/><circle cx="962.75" cy="182.83" r="5.0" fill="url(#go)"/><circle cx="959.2" cy="185.5" r="5.0" fill="url(#go)"/>
<circle cx="955.4" cy="178.5" r="5.0" fill="url(#go)"/><circle cx="947.8" cy="184.2" r="5.0" fill="url(#go)"/>
<circle cx="944.7" cy="196.8" r="5.0" fill="url(#go)"/><circle cx="940.7" cy="203.9" r="5.0" fill="url(#go)"/><circle cx="936.3" cy="209.9" r="5.0" fill="url(#go)"/><circle cx="932.5" cy="215.9" r="5.0" fill="url(#go)"/><circle cx="928.1" cy="221.4" r="5.0" fill="url(#go)"/><circle cx="923.7" cy="226.3" r="5.0" fill="url(#go)"/>
<circle cx="919.4" cy="231.8" r="5.0" fill="url(#go)"/><circle cx="916.61" cy="235.14" r="5.0" fill="url(#go)"/><circle cx="913.83" cy="238.49" r="5.0" fill="url(#go)"/><circle cx="910.9" cy="241.7" r="5.0" fill="url(#go)"/><circle cx="907.82" cy="244.78" r="5.0" fill="url(#go)"/><circle cx="904.74" cy="247.86" r="5.0" fill="url(#go)"/><circle cx="901.64" cy="250.91" r="5.0" fill="url(#go)"/><circle cx="898.24" cy="253.62" r="5.0" fill="url(#go)"/><circle cx="894.85" cy="256.34" r="5.0" fill="url(#go)"/><circle cx="891.45" cy="259.06" r="5.0" fill="url(#go)"/><circle cx="888.06" cy="261.8" r="5.0" fill="url(#go)"/><circle cx="884.68" cy="264.53" r="5.0" fill="url(#go)"/><circle cx="881.29" cy="267.27" r="5.0" fill="url(#go)"/><circle cx="877.77" cy="269.82" r="5.0" fill="url(#go)"/><circle cx="874.23" cy="272.36" r="5.0" fill="url(#go)"/><circle cx="870.7" cy="274.9" r="5.0" fill="url(#go)"/>
<circle cx="950.9" cy="162.9" r="5.0" fill="url(#go)"/>
<circle cx="1124.6" cy="105.5" r="5.0" fill="url(#go)"/><circle cx="1121.68" cy="108.59" r="5.0" fill="url(#go)"/><circle cx="1118.15" cy="110.9" r="5.0" fill="url(#go)"/><circle cx="1114.47" cy="113.01" r="5.0" fill="url(#go)"/><circle cx="1110.78" cy="115.13" r="5.0" fill="url(#go)"/><circle cx="1107" cy="117.03" r="5.0" fill="url(#go)"/><circle cx="1103.02" cy="118.53" r="5.0" fill="url(#go)"/><circle cx="1099.05" cy="120.02" r="5.0" fill="url(#go)"/><circle cx="1095.07" cy="121.52" r="5.0" fill="url(#go)"/><circle cx="1091.12" cy="123.06" r="5.0" fill="url(#go)"/><circle cx="1087.17" cy="124.62" r="5.0" fill="url(#go)"/><circle cx="1083.22" cy="126.19" r="5.0" fill="url(#go)"/><circle cx="1079.27" cy="127.75" r="5.0" fill="url(#go)"/><circle cx="1075.31" cy="129.3" r="5.0" fill="url(#go)"/><circle cx="1071.28" cy="130.65" r="5.0" fill="url(#go)"/><circle cx="1067.25" cy="132" r="5.0" fill="url(#go)"/><circle cx="1063.23" cy="133.35" r="5.0" fill="url(#go)"/><circle cx="1059.2" cy="134.7" r="5.0" fill="url(#go)"/>
<circle cx="1055.7" cy="124.2" r="5.0" fill="url(#go)"/><circle cx="1047.9" cy="127.3" r="5.0" fill="url(#go)"/><circle cx="1044.8" cy="142.8" r="5.0" fill="url(#go)"/><circle cx="1040.6" cy="156.5" r="5.0" fill="url(#go)"/><circle cx="1037.5" cy="162" r="5.0" fill="url(#go)"/><circle cx="1033.3" cy="171.1" r="5.0" fill="url(#go)"/><circle cx="1029.6" cy="178.4" r="5.0" fill="url(#go)"/><circle cx="1026" cy="185.7" r="5.0" fill="url(#go)"/><circle cx="1022.3" cy="193" r="5.0" fill="url(#go)"/><circle cx="1018.5" cy="201.3" r="5.0" fill="url(#go)"/><circle cx="1014.1" cy="207.6" r="5.0" fill="url(#go)"/><circle cx="1009.8" cy="215.5" r="5.0" fill="url(#go)"/><circle cx="1006" cy="223.2" r="5.0" fill="url(#go)"/><circle cx="1001.3" cy="231.7" r="5.0" fill="url(#go)"/><circle cx="997.5" cy="237.1" r="5.0" fill="url(#go)"/><circle cx="993.6" cy="242.5" r="5.0" fill="url(#go)"/><circle cx="989.4" cy="250.3" r="5.0" fill="url(#go)"/><circle cx="985.1" cy="256.4" r="5.0" fill="url(#go)"/><circle cx="981.2" cy="261.9" r="5.0" fill="url(#go)"/><circle cx="977.4" cy="267.3" r="5.0" fill="url(#go)"/><circle cx="972.7" cy="273.4" r="5.0" fill="url(#go)"/>
<circle cx="1051.5" cy="98.3" r="5.0" fill="url(#go)"/>
<circle cx="1189.9" cy="75.4" r="5.0" fill="url(#go)"/><circle cx="1187.92" cy="79.12" r="5.0" fill="url(#go)"/><circle cx="1185.4" cy="82.38" r="5.0" fill="url(#go)"/><circle cx="1182.01" cy="84.87" r="5.0" fill="url(#go)"/><circle cx="1178.36" cy="86.97" r="5.0" fill="url(#go)"/><circle cx="1174.67" cy="89.01" r="5.0" fill="url(#go)"/><circle cx="1170.91" cy="90.9" r="5.0" fill="url(#go)"/><circle cx="1167.11" cy="92.73" r="5.0" fill="url(#go)"/><circle cx="1163.25" cy="94.4" r="5.0" fill="url(#go)"/><circle cx="1159.38" cy="96.07" r="5.0" fill="url(#go)"/><circle cx="1155.53" cy="97.79" r="5.0" fill="url(#go)"/><circle cx="1151.69" cy="99.51" r="5.0" fill="url(#go)"/><circle cx="1147.97" cy="101.48" r="5.0" fill="url(#go)"/><circle cx="1144.3" cy="103.55" r="5.0" fill="url(#go)"/><circle cx="1140.71" cy="105.75" r="5.0" fill="url(#go)"/><circle cx="1137.29" cy="108.2" r="5.0" fill="url(#go)"/><circle cx="1133.89" cy="110.69" r="5.0" fill="url(#go)"/><circle cx="1130.8" cy="113.54" r="5.0" fill="url(#go)"/><circle cx="1127.7" cy="116.4" r="5.0" fill="url(#go)"/>
<circle cx="1122" cy="81" r="5.0" fill="url(#go)"/><circle cx="1115" cy="133.6" r="5.0" fill="url(#go)"/><circle cx="1111" cy="152" r="5.0" fill="url(#go)"/><circle cx="1107" cy="168" r="5.0" fill="url(#go)"/><circle cx="1103.6" cy="182" r="5.0" fill="url(#go)"/><circle cx="1100" cy="195" r="5.0" fill="url(#go)"/><circle cx="1096" cy="207" r="5.0" fill="url(#go)"/><circle cx="1092.2" cy="217.5" r="5.0" fill="url(#go)"/><circle cx="1088" cy="227.5" r="5.0" fill="url(#go)"/><circle cx="1084.3" cy="237.3" r="5.0" fill="url(#go)"/><circle cx="1080.8" cy="245.1" r="5.0" fill="url(#go)"/><circle cx="1076.5" cy="252.8" r="5.0" fill="url(#go)"/><circle cx="1072.2" cy="261.5" r="5.0" fill="url(#go)"/><circle cx="1067.8" cy="269.3" r="5.0" fill="url(#go)"/><circle cx="1064.4" cy="275.3" r="5.0" fill="url(#go)"/><circle cx="1060.6" cy="281.4" r="5.0" fill="url(#go)"/><circle cx="1056.6" cy="287.4" r="5.0" fill="url(#go)"/><circle cx="1052.3" cy="293.5" r="5.0" fill="url(#go)"/><circle cx="1048.8" cy="299.9" r="5.0" fill="url(#go)"/><circle cx="1044.5" cy="305.6" r="5.0" fill="url(#go)"/>
<circle cx="1225.3" cy="251.5" r="5.0" fill="url(#go)"/><circle cx="1222.12" cy="253.71" r="5.0" fill="url(#go)"/><circle cx="1218.95" cy="255.91" r="5.0" fill="url(#go)"/><circle cx="1215.77" cy="258.12" r="5.0" fill="url(#go)"/><circle cx="1212.6" cy="260.33" r="5.0" fill="url(#go)"/><circle cx="1209.42" cy="262.54" r="5.0" fill="url(#go)"/><circle cx="1206.22" cy="264.69" r="5.0" fill="url(#go)"/><circle cx="1203" cy="266.84" r="5.0" fill="url(#go)"/><circle cx="1199.78" cy="268.99" r="5.0" fill="url(#go)"/><circle cx="1196.57" cy="271.14" r="5.0" fill="url(#go)"/><circle cx="1193.35" cy="273.29" r="5.0" fill="url(#go)"/><circle cx="1190.14" cy="275.44" r="5.0" fill="url(#go)"/><circle cx="1187.07" cy="277.79" r="5.0" fill="url(#go)"/><circle cx="1184.06" cy="280.21" r="5.0" fill="url(#go)"/><circle cx="1181.04" cy="282.63" r="5.0" fill="url(#go)"/><circle cx="1178.03" cy="285.06" r="5.0" fill="url(#go)"/><circle cx="1175.01" cy="287.48" r="5.0" fill="url(#go)"/><circle cx="1172" cy="289.9" r="5.0" fill="url(#go)"/>
<circle cx="1162.9" cy="265" r="5.0" fill="url(#go)"/><circle cx="1165.9" cy="278.2" r="5.0" fill="url(#go)"/><circle cx="1158" cy="285.4" r="5.0" fill="url(#go)"/><circle cx="1154.8" cy="309.8" r="5.0" fill="url(#go)"/><circle cx="1150.5" cy="331.8" r="5.0" fill="url(#go)"/><circle cx="1147.2" cy="348.2" r="5.0" fill="url(#go)"/><circle cx="1143.9" cy="363.9" r="5.0" fill="url(#go)"/><circle cx="1140.7" cy="374.4" r="5.0" fill="url(#go)"/><circle cx="1136.6" cy="390.5" r="5.0" fill="url(#go)"/><circle cx="1133.4" cy="401.4" r="5.0" fill="url(#go)"/><circle cx="1130.1" cy="412.4" r="5.0" fill="url(#go)"/><circle cx="1126.4" cy="421.1" r="5.0" fill="url(#go)"/><circle cx="1122.4" cy="429.9" r="5.0" fill="url(#go)"/><circle cx="1118" cy="439.7" r="5.0" fill="url(#go)"/><circle cx="1114.7" cy="448.5" r="5.0" fill="url(#go)"/><circle cx="1110.4" cy="456.2" r="5.0" fill="url(#go)"/><circle cx="1107.1" cy="462.7" r="5.0" fill="url(#go)"/><circle cx="1103.8" cy="469.3" r="5.0" fill="url(#go)"/><circle cx="1100.1" cy="475.9" r="5.0" fill="url(#go)"/><circle cx="1096.1" cy="482.4" r="5.0" fill="url(#go)"/><circle cx="1092.9" cy="489" r="5.0" fill="url(#go)"/><circle cx="1088.5" cy="495.6" r="5.0" fill="url(#go)"/>
<circle cx="1193.4" cy="412.9" r="4.8" fill="url(#go)"/><circle cx="1190.6" cy="417.62" r="4.8" fill="url(#go)"/><circle cx="1187.84" cy="422.37" r="4.8" fill="url(#go)"/><circle cx="1185.11" cy="427.13" r="4.8" fill="url(#go)"/><circle cx="1182.33" cy="431.86" r="4.8" fill="url(#go)"/><circle cx="1179.53" cy="436.58" r="4.8" fill="url(#go)"/><circle cx="1176.71" cy="441.29" r="4.8" fill="url(#go)"/><circle cx="1173.74" cy="445.91" r="4.8" fill="url(#go)"/><circle cx="1170.78" cy="450.53" r="4.8" fill="url(#go)"/><circle cx="1167.8" cy="455.14" r="4.8" fill="url(#go)"/><circle cx="1164.7" cy="459.67" r="4.8" fill="url(#go)"/><circle cx="1161.59" cy="464.19" r="4.8" fill="url(#go)"/><circle cx="1158.48" cy="468.71" r="4.8" fill="url(#go)"/><circle cx="1155.22" cy="473.13" r="4.8" fill="url(#go)"/><circle cx="1151.7" cy="477.34" r="4.8" fill="url(#go)"/><circle cx="1148.18" cy="481.55" r="4.8" fill="url(#go)"/><circle cx="1144.66" cy="485.76" r="4.8" fill="url(#go)"/><circle cx="1140.87" cy="489.73" r="4.8" fill="url(#go)"/><circle cx="1136.99" cy="493.61" r="4.8" fill="url(#go)"/><circle cx="1133.11" cy="497.49" r="4.8" fill="url(#go)"/><circle cx="1129.31" cy="501.45" r="4.8" fill="url(#go)"/><circle cx="1125.61" cy="505.5" r="4.8" fill="url(#go)"/><circle cx="1121.9" cy="509.55" r="4.8" fill="url(#go)"/><circle cx="1118.2" cy="513.6" r="4.8" fill="url(#go)"/>
<polyline points="951.6,163.4 1051.5,97.4 1122,81 1162,270 1197.5,398.8" fill="none" stroke="#6c0598" stroke-width="5" stroke-linejoin="round"/>
<circle cx="1248.2" cy="351.3" r="5.0" fill="url(#go)"/><circle cx="1245.45" cy="354.05" r="5.0" fill="url(#go)"/><circle cx="1242.71" cy="356.79" r="5.0" fill="url(#go)"/><circle cx="1239.96" cy="359.54" r="5.0" fill="url(#go)"/><circle cx="1237.22" cy="362.28" r="5.0" fill="url(#go)"/><circle cx="1234.47" cy="365.03" r="5.0" fill="url(#go)"/><circle cx="1231.73" cy="367.77" r="5.0" fill="url(#go)"/><circle cx="1228.98" cy="370.52" r="5.0" fill="url(#go)"/><circle cx="1226.23" cy="373.27" r="5.0" fill="url(#go)"/><circle cx="1223.49" cy="376.01" r="5.0" fill="url(#go)"/><circle cx="1220.74" cy="378.76" r="5.0" fill="url(#go)"/><circle cx="1218" cy="381.5" r="5.0" fill="url(#go)"/><circle cx="1215.27" cy="384.26" r="5.0" fill="url(#go)"/><circle cx="1212.69" cy="387.17" r="5.0" fill="url(#go)"/><circle cx="1210.12" cy="390.08" r="5.0" fill="url(#go)"/><circle cx="1207.55" cy="392.98" r="5.0" fill="url(#go)"/><circle cx="1204.97" cy="395.89" r="5.0" fill="url(#go)"/><circle cx="1202.4" cy="398.8" r="5.0" fill="url(#go)"/>
<circle cx="1196" cy="401" r="5.0" fill="url(#go)"/>
<text x="6.5" y="27.5" font-size="37" font-weight="bold" stroke="#000" stroke-width="0.8" textLength="207" lengthAdjust="spacingAndGlyphs">(a) 2% wt</text>
<text x="734.5" y="35.4" font-size="37" font-weight="bold" stroke="#000" stroke-width="0.8" textLength="235" lengthAdjust="spacingAndGlyphs">(b) 12% wt</text>
<g transform="translate(29,416) rotate(-92)" font-weight="bold"><text x="-3" y="0" font-size="30" font-weight="normal" textLength="20" lengthAdjust="spacingAndGlyphs">α</text><text x="21" y="4.5" font-size="17" textLength="31" lengthAdjust="spacingAndGlyphs">ME</text><text x="57" y="-1" font-size="28" textLength="187.5" lengthAdjust="spacingAndGlyphs">(V / cm.Oe)</text></g>
<g transform="translate(763.5,416) rotate(-92)" font-weight="bold"><text x="-5" y="0" font-size="30" font-weight="normal" textLength="20" lengthAdjust="spacingAndGlyphs">α</text><text x="21" y="4.5" font-size="17" textLength="31" lengthAdjust="spacingAndGlyphs">ME</text><text x="57" y="-1" font-size="28" textLength="187.5" lengthAdjust="spacingAndGlyphs">(V / cm.Oe)</text></g>
<text transform="matrix(1.01,-0.55,0.1,1.4,78.52,439.17)" font-size="20" text-anchor="end" font-weight="normal">0.0</text>
<text transform="matrix(1.05,-0.47,0.1,1.4,71.15,335.46)" font-size="20" text-anchor="end" font-weight="normal">0.1</text>
<text transform="matrix(1.09,-0.37,0.1,1.4,63.36,225.72)" font-size="20" text-anchor="end" font-weight="normal">0.2</text>
<text transform="matrix(1.12,-0.26,0.1,1.4,55.1,109.41)" font-size="20" text-anchor="end" font-weight="normal">0.3</text>
<text transform="matrix(1.01,-0.55,0.1,1.4,814.18,443.44)" font-size="20" text-anchor="end" font-weight="normal">0.0</text>
<text transform="matrix(1.04,-0.49,0.1,1.4,808.9,369.79)" font-size="20" text-anchor="end" font-weight="normal">0.5</text>
<text transform="matrix(1.07,-0.43,0.1,1.4,803.41,293.13)" font-size="20" text-anchor="end" font-weight="normal">1.0</text>
<text transform="matrix(1.09,-0.36,0.1,1.4,797.68,213.27)" font-size="20" text-anchor="end" font-weight="normal">1.5</text>
<text transform="matrix(1.12,-0.28,0.1,1.4,791.72,130.01)" font-size="20" text-anchor="end" font-weight="normal">2.0</text>
<text transform="matrix(0.76,-0.65,0.94,0.33,372.52,532.45)" font-size="22" text-anchor="end" font-weight="normal">0</text>
<text transform="matrix(0.8,-0.6,0.94,0.33,299.01,506.67)" font-size="22" text-anchor="end" font-weight="normal">5</text>
<text transform="matrix(0.83,-0.56,0.94,0.33,230.86,482.76)" font-size="22" text-anchor="end" font-weight="normal">10</text>
<text transform="matrix(0.85,-0.52,0.94,0.33,167.51,460.54)" font-size="22" text-anchor="end" font-weight="normal">15</text>
<text transform="matrix(0.87,-0.49,0.94,0.33,108.47,439.83)" font-size="22" text-anchor="end" font-weight="normal">20</text>
<text transform="matrix(0.76,-0.65,0.94,0.33,1111.49,537.07)" font-size="22" text-anchor="end" font-weight="normal">0</text>
<text transform="matrix(0.8,-0.61,0.94,0.33,1037.84,511.17)" font-size="22" text-anchor="end" font-weight="normal">5</text>
<text transform="matrix(0.83,-0.56,0.94,0.33,969.6,487.18)" font-size="22" text-anchor="end" font-weight="normal">10</text>
<text transform="matrix(0.85,-0.52,0.94,0.33,906.2,464.88)" font-size="22" text-anchor="end" font-weight="normal">15</text>
<text transform="matrix(0.87,-0.49,0.94,0.33,847.13,444.11)" font-size="22" text-anchor="end" font-weight="normal">20</text>
<text transform="matrix(1.03,0.27,-0.63,0.58,559.89,409.7)" font-size="24" text-anchor="start" font-weight="normal">280</text>
<text transform="matrix(1.03,0.3,-0.63,0.58,508.39,456.54)" font-size="24" text-anchor="start" font-weight="normal">300</text>
<text transform="matrix(1.02,0.33,-0.63,0.58,447.43,511.98)" font-size="24" text-anchor="start" font-weight="normal">320</text>
<text transform="matrix(1.03,0.27,-0.63,0.58,1295.44,413.98)" font-size="24" text-anchor="start" font-weight="normal">280</text>
<text transform="matrix(1.03,0.3,-0.63,0.58,1244.15,460.93)" font-size="24" text-anchor="start" font-weight="normal">300</text>
<text transform="matrix(1.02,0.33,-0.63,0.58,1183.39,516.53)" font-size="24" text-anchor="start" font-weight="normal">320</text>
<text transform="matrix(1.07,0.41,-1.17,0.68,72,484.5)" font-size="29" text-anchor="start" font-weight="bold" stroke="#000" stroke-width="0.6">H</text>
<text transform="matrix(1.07,0.42,-1.16,0.69,81.41,500.72)" font-size="18" text-anchor="start" font-weight="bold">DC</text>
<text transform="matrix(1.07,0.42,-1.27,0.8,123.28,506.88)" font-size="29" text-anchor="start" font-weight="bold" stroke="#000" stroke-width="0.6" textLength="92.2" lengthAdjust="spacingAndGlyphs">(kOe)</text>
<text transform="matrix(1.08,0.41,-1.15,0.7,853,493)" font-size="25" text-anchor="start" font-weight="bold" stroke="#000" stroke-width="0.6">H</text>
<text transform="matrix(1.07,0.41,-1.14,0.72,861.54,507.22)" font-size="15.5" text-anchor="start" font-weight="bold">DC</text>
<text transform="matrix(1.08,0.41,-1.25,0.82,897.88,510.03)" font-size="25" text-anchor="start" font-weight="bold" stroke="#000" stroke-width="0.6" textLength="77.4" lengthAdjust="spacingAndGlyphs">(kOe)</text>
<text transform="matrix(0.77,-0.85,1.38,0.43,562,517)" font-size="29" text-anchor="start" font-weight="bold" stroke="#000" stroke-width="0.7">T (K)</text>
<text transform="matrix(0.78,-0.85,1.39,0.43,1298,512)" font-size="29" text-anchor="start" font-weight="bold" stroke="#000" stroke-width="0.7">T(K)</text>
</svg></body></html>
